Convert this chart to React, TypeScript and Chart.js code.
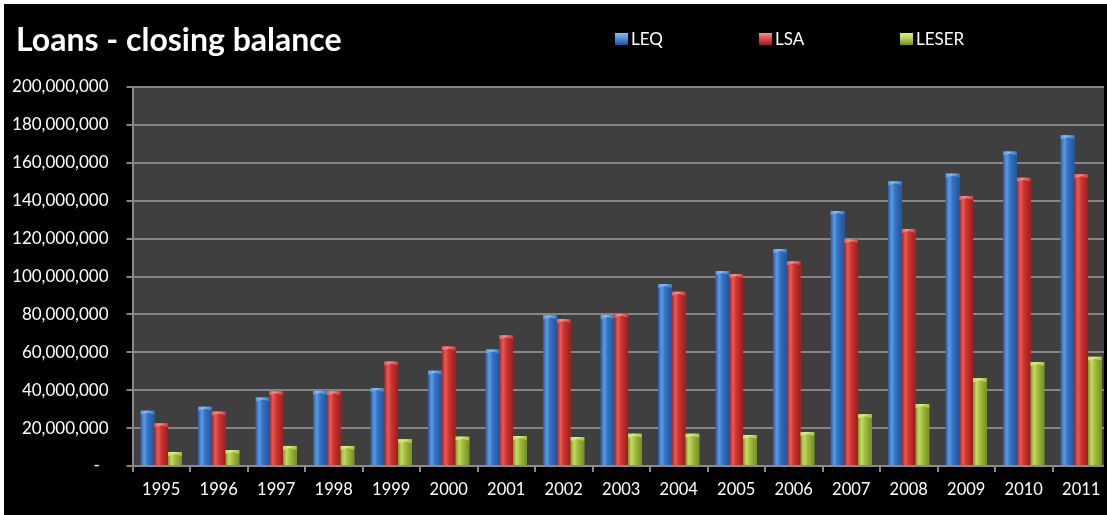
import { useEffect, useRef } from 'react';
import { Chart, registerables } from 'chart.js';

Chart.register(...registerables);

const TITLE = 'Loans - closing balance';
const CATEGORIES = ['1995', '1996', '1997', '1998', '1999', '2000', '2001', '2002', '2003', '2004', '2005', '2006', '2007', '2008', '2009', '2010', '2011'];
const SERIES_NAMES = ['LEQ', 'LSA', 'LESER'];
const LEQ = [29200000, 31300000, 36200000, 39700000, 41200000, 50300000, 61500000, 79500000, 79700000, 96000000, 102900000, 114500000, 134600000, 150200000, 154300000, 166000000, 174600000];
const LSA = [22500000, 28700000, 39400000, 39400000, 55200000, 63000000, 69000000, 77600000, 80400000, 92000000, 101300000, 108000000, 119600000, 125100000, 142500000, 152100000, 154000000];
const LESER = [7400000, 8400000, 10600000, 10600000, 14100000, 15500000, 15800000, 15300000, 17000000, 17000000, 16400000, 17900000, 27300000, 32700000, 46300000, 54900000, 57600000];
const Y_MIN = 0;
const Y_MAX = 200000000;
const Y_STEP = 20000000;

const SHADES = [
  { base: '#3a78c8', edgeL: '#2a5ea8', hi: '#5b9be6', mid: '#3574c4', edgeR: '#22539a', cap: '#86bdf2' },
  { base: '#d03a35', edgeL: '#a52420', hi: '#ea5a54', mid: '#cf3531', edgeR: '#981e1b', cap: '#f39290' },
  { base: '#a0bd3e', edgeL: '#7e9a2a', hi: '#c2db62', mid: '#a2bf3e', edgeR: '#748f25', cap: '#dcef8a' },
];

const LEGEND_X = [611, 755, 896];

const plotBg = {
  id: 'plotBg',
  beforeDraw(chart: any) {
    const { ctx, chartArea: a } = chart;
    ctx.save();
    ctx.fillStyle = '#3f3f3f';
    ctx.fillRect(a.left, a.top, a.right - a.left, a.bottom - a.top);
    ctx.restore();
  },
};

const barShade = {
  id: 'barShade',
  afterDatasetsDraw(chart: any) {
    const { ctx } = chart;
    ctx.save();
    chart.data.datasets.forEach((_ds: any, di: number) => {
      const meta = chart.getDatasetMeta(di);
      const s = SHADES[di];
      meta.data.forEach((el: any) => {
        const { x, y, base, width } = el.getProps(['x', 'y', 'base', 'width'], true);
        const left = x - width / 2;
        const h = base - y;
        const g = ctx.createLinearGradient(left, 0, left + width, 0);
        g.addColorStop(0, s.edgeL);
        g.addColorStop(0.25, s.hi);
        g.addColorStop(0.5, s.mid);
        g.addColorStop(1, s.edgeR);
        ctx.fillStyle = g;
        ctx.fillRect(left, y, width, h);
        const capH = Math.min(4, h);
        const gc = ctx.createLinearGradient(left, 0, left + width, 0);
        gc.addColorStop(0, s.hi);
        gc.addColorStop(0.4, s.cap);
        gc.addColorStop(1, s.mid);
        ctx.fillStyle = gc;
        ctx.beginPath();
        ctx.moveTo(left, y);
        ctx.lineTo(left + width, y);
        ctx.lineTo(left + width, y + capH);
        ctx.lineTo(left + width / 2, y + capH * 0.5);
        ctx.lineTo(left, y + capH);
        ctx.closePath();
        ctx.fill();
      });
    });
    ctx.restore();
  },
};

const titleLegend = {
  id: 'titleLegend',
  afterDraw(chart: any) {
    const { ctx } = chart;
    ctx.save();
    ctx.fillStyle = '#ffffff';
    ctx.font = 'bold 32px Lato';
    ctx.textAlign = 'left';
    ctx.textBaseline = 'alphabetic';
    ctx.fillText(TITLE, 12, 47);
    chart.data.datasets.forEach((ds: any, i: number) => {
      const s = SHADES[i];
      const x = LEGEND_X[i];
      const g = ctx.createLinearGradient(0, 29, 0, 41);
      g.addColorStop(0, s.cap);
      g.addColorStop(0.35, s.hi);
      g.addColorStop(1, s.edgeR);
      ctx.fillStyle = g;
      ctx.fillRect(x, 29, 13, 12);
      ctx.fillStyle = '#ffffff';
      ctx.font = '17px Lato';
      ctx.textBaseline = 'middle';
      ctx.fillText(ds.label, x + 16, 36);
    });
    ctx.restore();
  },
};

export default function App() {
  const ref = useRef<HTMLCanvasElement>(null);
  useEffect(() => {
    const series = [LEQ, LSA, LESER];
    const chart = new Chart(ref.current as HTMLCanvasElement, {
      type: 'bar',
      data: {
        labels: CATEGORIES,
        datasets: series.map((d, i) => ({
          label: SERIES_NAMES[i],
          data: d,
          backgroundColor: SHADES[i].base,
          borderWidth: 0,
          categoryPercentage: 0.713,
          barPercentage: 1,
        })),
      },
      options: {
        responsive: false,
        animation: false,
        devicePixelRatio: 1,
        layout: { padding: { left: 8, top: 83, right: 0, bottom: 0 } },
        plugins: {
          legend: { display: false },
          title: { display: false },
          tooltip: { enabled: false },
        },
        scales: {
          x: {
            grid: { display: true, drawOnChartArea: false, drawTicks: true, tickLength: 6, color: '#8a8a8a', lineWidth: 2 },
            border: { display: true, color: '#8a8a8a', width: 2 },
            ticks: { color: '#ffffff', font: { family: 'Lato', size: 16.5 }, padding: 8, maxRotation: 0, autoSkip: false },
            afterFit(s: any) { s.height = 49; },
          },
          y: {
            min: Y_MIN,
            max: Y_MAX,
            ticks: {
              stepSize: Y_STEP,
              color: '#ffffff',
              font: { family: 'Lato', size: 17 },
              padding: 18,
              callback: (v: any) => (Number(v) === 0 ? '-  ' : Number(v).toLocaleString('en-US')),
            },
            grid: { color: '#858585', lineWidth: 2, tickLength: 6 },
            border: { color: '#8a8a8a', width: 2 },
            afterFit(s: any) { s.width = 120.5; },
          },
        },
      },
      plugins: [plotBg, barShade, titleLegend],
    });
    return () => chart.destroy();
  }, []);

  return (
    <div style={{ position: 'absolute', left: 0, top: 0, width: 1107, height: 515, background: '#ffffff', overflow: 'hidden' }}>
      <div style={{ position: 'absolute', left: 4, top: 4, width: 1103, height: 511, background: '#000000', overflow: 'hidden' }}>
        <div style={{ width: 1100, height: 511, overflow: 'hidden' }}>
          <canvas ref={ref} width={1106} height={511} style={{ display: 'block' }} />
        </div>
      </div>
    </div>
  );
}
